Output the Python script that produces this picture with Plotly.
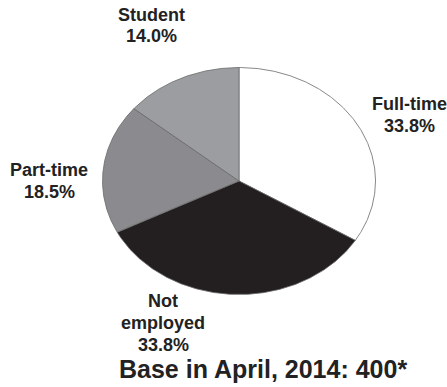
import numpy as np
import plotly.graph_objects as go

# Employment status shares (percent)
categories = ["Full-time", "Not employed", "Part-time", "Student"]
shares = [33.8, 33.8, 18.5, 14.0]
slice_colors = ["#ffffff", "#231f20", "#8b8b8f", "#9c9da1"]
label_lines = [["Full-time"], ["Not", "employed"], ["Part-time"], ["Student"]]
base_note = "Base in April, 2014: 400*"

W, H = 447, 387
# pixel geometry of the (elliptical) pie
cx, cy = 239, 181
rx, ry = 136.5, 113.5

fig = go.Figure()

total = sum(shares)
start = 0.0
for name, val, col in zip(categories, shares, slice_colors):
    frac0 = start / total
    frac1 = (start + val) / total
    a = np.linspace(frac0, frac1, 240) * 2 * np.pi  # clockwise from 12 o'clock
    xs = np.concatenate([[0.0], np.sin(a), [0.0]])
    ys = np.concatenate([[0.0], np.cos(a), [0.0]])
    fig.add_trace(go.Scatter(
        x=xs, y=ys, mode="lines", fill="toself", fillcolor=col,
        line=dict(color="#6a6a6a", width=0.8), name=name,
        hoverinfo="name", showlegend=False,
    ))
    start += val

# axis ranges so one data unit equals rx / ry pixels
fig.update_xaxes(range=[-cx / rx, (W - cx) / rx], visible=False, fixedrange=True)
fig.update_yaxes(range=[-(H - cy) / ry, cy / ry], visible=False, fixedrange=True)

# label centre x and the y of each text line (pixels from top)
label_pos = {
    "Full-time": (409, [103.5, 126]),
    "Not employed": (163, [300.5, 322.5, 344.5]),
    "Part-time": (49, [170, 191.5]),
    "Student": (151.5, [15, 35.5]),
}
font = dict(family="Liberation Sans, Arial, sans-serif", size=18, color="#222222", weight="bold")
for name, lines, val in zip(categories, label_lines, shares):
    px, ys_px = label_pos[name]
    texts = lines + [f"{val:.1f}%"]
    for txt, py in zip(texts, ys_px):
        fig.add_annotation(
            x=px / W, y=1 - py / H, xref="paper", yref="paper",
            text=txt, showarrow=False, borderpad=0,
            xanchor="center", yanchor="middle", font=font,
        )

fig.add_annotation(
    x=263 / W, y=1 - 369 / H, xref="paper", yref="paper",
    text=base_note, showarrow=False, xanchor="center", yanchor="middle", borderpad=0,
    font=dict(family="Liberation Sans, Arial, sans-serif", size=25, color="#222222", weight="bold"),
)

fig.update_layout(
    width=W, height=H, margin=dict(l=0, r=0, t=0, b=0),
    paper_bgcolor="white", plot_bgcolor="white",
)

fig.write_html("out.html")
